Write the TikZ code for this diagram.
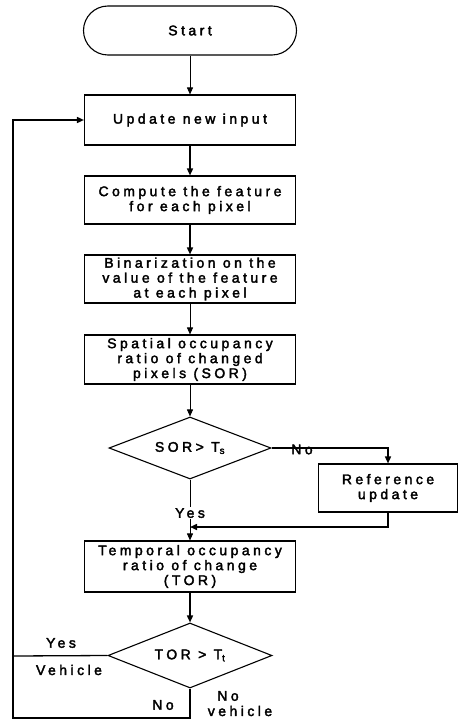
\documentclass[tikz,border=0pt]{standalone}
\usepackage{fontspec}
\setmainfont{Liberation Sans}[LetterSpace=25, FakeBold=2.5]
\usetikzlibrary{shapes.geometric,arrows.meta}
\begin{document}
\begin{tikzpicture}[x=1bp,y=-1bp,
  every node/.style={font=\fontsize{14}{15}\selectfont},
  boxnode/.style={draw,line width=1.1bp,inner sep=0pt,align=center,minimum width=211bp},
  dec/.style={draw,diamond,aspect=2.6,inner sep=0pt,line width=1.1bp},
  lbl/.style={inner sep=1pt},
  arr/.style={-{Triangle[length=7bp,width=6bp]},line width=1.5bp},
  tarr/.style={-{Triangle[length=7bp,width=6bp]},line width=0.9bp},
  ln/.style={line width=1.3bp}]
\useasboundingbox (0,0) rectangle (461,721);
\fill[white] (0,0) rectangle (461,721);

\node[boxnode, rounded corners=24.5bp, minimum width=213bp, minimum height=49bp] (start) at (190,30.5) {Start};
\node[boxnode, minimum height=50bp] (update) at (190,120) {Update new input};
\node[boxnode, minimum height=48bp] (compute) at (190,200) {Compute the feature\\for each pixel};
\node[boxnode, minimum height=48bp] (binar) at (190,279) {Binarization on the\\value of the feature\\at each pixel};
\node[boxnode, minimum height=49bp] (spatial) at (190,359.5) {Spatial occupancy\\ratio of changed\\pixels (SOR)};
\node[dec, minimum width=162bp, minimum height=62bp] (d1) at (190,448) {SOR> T\textsubscript{s}};
\node[boxnode, minimum width=139bp, minimum height=48bp] (ref) at (388,488) {Reference\\update};
\node[boxnode, minimum height=51bp] (temporal) at (190,566.5) {Temporal occupancy\\ratio of change\\(TOR)};
\node[dec, minimum width=164bp, minimum height=65bp] (d2) at (190,655.5) {TOR > T\textsubscript{t}};

\coordinate (j1) at (190,527);
\coordinate (lu) at (13,120);
\coordinate (lt) at (13,656);
\coordinate (lb) at (13,718);
\coordinate (bb) at (190,718);

\draw[tarr] (start) -- (update);
\draw[arr] (update) -- (compute);
\draw[arr] (compute) -- (binar);
\draw[tarr] (binar) -- (spatial);
\draw[tarr] (spatial) -- (d1);
\draw[arr] (d1.east) -| (ref.north);
\node[lbl] (no1) at (302,449.5) {No};
\draw[tarr] (d1.south) -- (temporal.north) node[pos=0.55, fill=white, lbl] (yes1) {Yes};
\draw[arr] (ref.south) |- (j1);
\draw[arr] (temporal) -- (d2);
\draw[ln] (d2.west) -- (lt);
\draw[arr] (d2.south) -- (bb) -- (lb) -- (lu) -- (update.west);

\node[lbl] (yes2) at (61,643) {Yes};
\node[lbl] (veh) at (69,670) {Vehicle};
\node[lbl] (no2) at (163,705) {No};
\node[lbl] (no3) at (228,696) {No};
\node[lbl] (noveh) at (240,711) {vehicle};
\end{tikzpicture}
\end{document}
